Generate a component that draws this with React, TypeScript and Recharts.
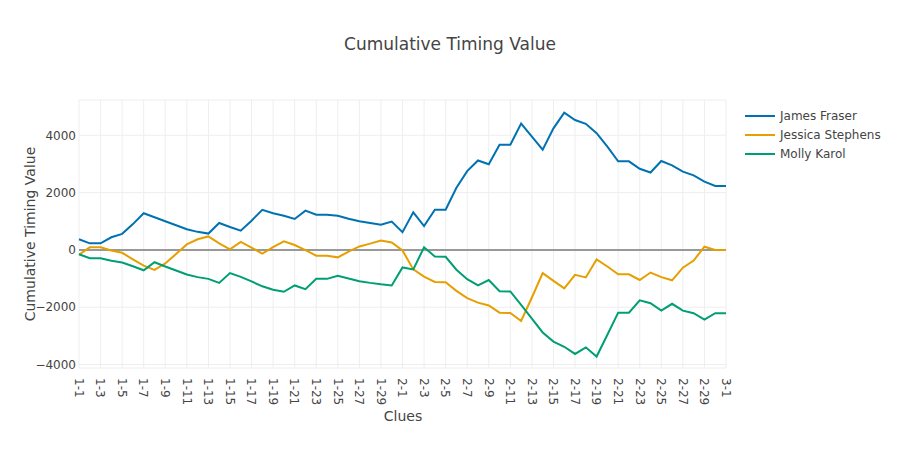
import { LineChart, Line, XAxis, YAxis, CartesianGrid, ReferenceLine } from 'recharts'

const clues = [
  '1-1', '1-2', '1-3', '1-4', '1-5', '1-6', '1-7', '1-8', '1-9', '1-10',
  '1-11', '1-12', '1-13', '1-14', '1-15', '1-16', '1-17', '1-18', '1-19', '1-20',
  '1-21', '1-22', '1-23', '1-24', '1-25', '1-26', '1-27', '1-28', '1-29', '1-30',
  '2-1', '2-2', '2-3', '2-4', '2-5', '2-6', '2-7', '2-8', '2-9', '2-10',
  '2-11', '2-12', '2-13', '2-14', '2-15', '2-16', '2-17', '2-18', '2-19', '2-20',
  '2-21', '2-22', '2-23', '2-24', '2-25', '2-26', '2-27', '2-28', '2-29', '2-30',
  '3-1',
]

const jamesFraser = [
  370, 230, 230, 440, 560, 900, 1280, 1140, 1000, 860,
  720, 630, 570, 940, 800, 670, 1020, 1400, 1280, 1190,
  1080, 1370, 1230, 1230, 1190, 1090, 1000, 940, 880, 990,
  620, 1310, 830, 1400, 1400, 2170, 2750, 3120, 2990, 3670,
  3670, 4410, 3950, 3500, 4240, 4790, 4530, 4400, 4070, 3600,
  3090, 3090, 2830, 2700, 3100, 2950, 2730, 2600, 2380, 2230,
  2230,
]

const jessicaStephens = [
  -170, 90, 90, -20, -100, -330, -550, -700, -470, -140,
  190, 370, 470, 230, 20, 280, 80, -130, 100, 300,
  170, -10, -200, -200, -260, -60, 120, 220, 330, 260,
  -20, -680, -930, -1120, -1130, -1430, -1680, -1840, -1940, -2190,
  -2200, -2480, -1660, -810, -1080, -1340, -870, -960, -330, -580,
  -850, -850, -1050, -790, -950, -1060, -620, -370, 110, 0,
  0,
]

const mollyKarol = [
  -150, -290, -290, -380, -440, -570, -710, -430, -580, -720,
  -860, -950, -1010, -1150, -810, -940, -1100, -1270, -1390, -1460,
  -1240, -1370, -1010, -1010, -900, -1000, -1090, -1150, -1200, -1240,
  -610, -680, 90, -230, -240, -690, -1020, -1240, -1050, -1440,
  -1450, -1920, -2400, -2880, -3200, -3380, -3630, -3400, -3720, -2960,
  -2190, -2190, -1760, -1860, -2120, -1880, -2120, -2210, -2430, -2210,
  -2210,
]

const xTicks = [
  '1-1', '1-3', '1-5', '1-7', '1-9', '1-11', '1-13', '1-15', '1-17', '1-19',
  '1-21', '1-23', '1-25', '1-27', '1-29', '2-1', '2-3', '2-5', '2-7', '2-9',
  '2-11', '2-13', '2-15', '2-17', '2-19', '2-21', '2-23', '2-25', '2-27', '2-29',
  '3-1',
]
const yTicks = [-4000, -2000, 0, 2000, 4000]

const series = [
  { key: 'james', name: 'James Fraser', color: '#0072B2' },
  { key: 'jessica', name: 'Jessica Stephens', color: '#E69F00' },
  { key: 'molly', name: 'Molly Karol', color: '#009E73' },
]

const data = clues.map((c, i) => ({
  clue: c,
  james: jamesFraser[i],
  jessica: jessicaStephens[i],
  molly: mollyKarol[i],
}))

const font = '"DejaVu Sans", verdana, arial, sans-serif'

function XTick({ x, y, payload }: any) {
  return (
    <g transform={`translate(${x},${y})`}>
      <text transform="rotate(90)" x={8} y={0} dy="0.35em" textAnchor="start" fontSize={12} fill="#444" fontFamily={font}>
        {payload.value}
      </text>
    </g>
  )
}

const fmt = (v: number) => (v < 0 ? '\u2212' + Math.abs(v) : String(v))

export default function App() {
  return (
    <div style={{ position: 'absolute', left: 0, top: 0, width: 900, height: 450, background: '#fff', fontFamily: font }}>
      <div style={{ position: 'absolute', left: 0, width: 900, top: 34, textAlign: 'center', fontSize: 17, color: '#444' }}>
        Cumulative Timing Value
      </div>
      <LineChart width={900} height={450} data={data} margin={{ top: 100, right: 174, bottom: 0, left: 0 }}>
        <CartesianGrid stroke="#eee" strokeWidth={1} />
        <XAxis
          dataKey="clue"
          ticks={xTicks}
          interval={0}
          height={82}
          tick={<XTick />}
          tickLine={false}
          axisLine={false}
          tickSize={0}
        />
        <YAxis
          domain={[-4120, 5230]}
          ticks={yTicks}
          width={79}
          tickLine={false}
          axisLine={false}
          tickSize={0}
          tickMargin={3}
          tickFormatter={fmt}
          tick={{ fontSize: 12, fill: '#444', fontFamily: font }}
        />
        <ReferenceLine y={0} stroke="#999" strokeWidth={2} />
        {series.map((s) => (
          <Line
            key={s.key}
            type="linear"
            dataKey={s.key}
            name={s.name}
            stroke={s.color}
            strokeWidth={2}
            dot={false}
            activeDot={false}
            isAnimationActive={false}
          />
        ))}
      </LineChart>
      <div style={{ position: 'absolute', left: 0, width: 806, top: 408, textAlign: 'center', fontSize: 14, color: '#444' }}>
        Clues
      </div>
      <div
        style={{
          position: 'absolute',
          left: 30,
          top: 234,
          fontSize: 14,
          color: '#444',
          whiteSpace: 'nowrap',
          transform: 'translate(-50%, -50%) rotate(-90deg)',
        }}
      >
        Cumulative Timing Value
      </div>
      <div style={{ position: 'absolute', left: 745, top: 106 }}>
        {series.map((s) => (
          <div key={s.key} style={{ display: 'flex', alignItems: 'center', height: 19, fontSize: 12, color: '#444' }}>
            <span style={{ display: 'inline-block', width: 30, height: 2, background: s.color, marginRight: 5 }} />
            {s.name}
          </div>
        ))}
      </div>
    </div>
  )
}
